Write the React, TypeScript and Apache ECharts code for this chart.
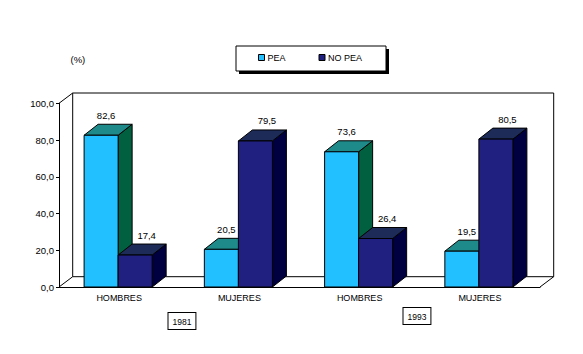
import React, { useEffect, useRef } from "react";
import * as echarts from "echarts";

const categories = ["HOMBRES", "MUJERES", "HOMBRES", "MUJERES"];
const years = ["1981", "1993"];
const seriesNames = ["PEA", "NO PEA"];
const peaValues = [82.6, 20.5, 73.6, 19.5];
const noPeaValues = [17.4, 79.5, 26.4, 80.5];

const FONT = "Liberation Sans, Arial, sans-serif";
const G = { left: 59, top: 103.3, width: 481, height: 183.7 };
const WALL = { dx: 13.7, dy: -10.3 };
const BAR = { dx: 14, dy: -11 };

const palette = [
  { front: "#22C0FF", top: "#1E8A8A", side: "#006040", labelDx: 5 },
  { front: "#202080", top: "#1C2B58", side: "#000040", labelDx: 11.5 },
];

const fmt = (v: number) => v.toFixed(1).replace(".", ",");

function makeRender(s: number) {
  return (params: any, api: any) => {
    const idx = api.value(0);
    const val = api.value(1);
    const top = api.coord([idx, val]);
    const base = api.coord([idx, 0]);
    const band = api.size([1, 0])[0];
    const bw = band * 0.283;
    const cx = top[0] - 1;
    const x0 = s === 0 ? cx - bw : cx;
    const x1 = x0 + bw;
    const yT = top[1];
    const y0 = base[1];
    const c = palette[s];
    const stroke = { stroke: "#000", lineWidth: 1 };
    return {
      type: "group",
      children: [
        {
          type: "polygon",
          shape: { points: [[x1, yT], [x1 + BAR.dx, yT + BAR.dy], [x1 + BAR.dx, y0 + BAR.dy], [x1, y0]] },
          style: { fill: c.side, ...stroke },
        },
        {
          type: "polygon",
          shape: { points: [[x0, yT], [x0 + BAR.dx, yT + BAR.dy], [x1 + BAR.dx, yT + BAR.dy], [x1, yT]] },
          style: { fill: c.top, ...stroke },
        },
        {
          type: "rect",
          shape: { x: x0, y: yT, width: bw, height: y0 - yT },
          style: { fill: c.front, ...stroke },
        },
        {
          type: "text",
          style: {
            text: fmt(val),
            x: (x0 + x1) / 2 + c.labelDx,
            y: yT + BAR.dy - 9,
            align: "center",
            verticalAlign: "middle",
            font: `9.5px ${FONT}`,
            fill: "#000",
          },
        },
      ],
    };
  };
}

export default function App() {
  const ref = useRef<HTMLDivElement>(null);
  useEffect(() => {
    if (!ref.current) return;
    const chart = echarts.init(ref.current, null, { renderer: "svg" });
    const bx = G.left + WALL.dx;
    const by = G.top + WALL.dy;
    const fx = G.left;
    const fy = G.top + G.height;
    const line = { stroke: "#000", lineWidth: 1, fill: "none" };
    chart.setOption({
      animation: false,
      backgroundColor: "#fff",
      title: {
        text: "(%)",
        left: 70.5,
        top: 54,
        padding: 0,
        textStyle: { fontFamily: FONT, fontSize: 9.5, fontWeight: "normal", color: "#000" },
      },
      legend: {
        data: seriesNames,
        left: 236,
        top: 46,
        padding: [7, 20, 7, 22],
        itemGap: 33,
        itemWidth: 6,
        itemHeight: 6,
        icon: "rect",
        itemStyle: { borderColor: "#000", borderWidth: 1 },
        textStyle: { fontFamily: FONT, fontSize: 9, color: "#000", padding: [0, 0, 0, -2] },
        z: 10,
      },
      grid: { left: G.left, top: G.top, width: G.width, height: G.height },
      xAxis: {
        type: "category",
        data: categories,
        axisLine: { lineStyle: { color: "#000", width: 1 } },
        axisTick: { length: 3, lineStyle: { color: "#000" } },
        axisLabel: { margin: 6, fontFamily: FONT, fontSize: 9, color: "#000" },
        splitLine: { show: false },
      },
      yAxis: {
        type: "value",
        min: 0,
        max: 100,
        interval: 20,
        axisLine: { show: true, lineStyle: { color: "#000", width: 1 } },
        axisTick: { show: true, length: 3, lineStyle: { color: "#000" } },
        axisLabel: { margin: 5, fontFamily: FONT, fontSize: 9.5, color: "#000", formatter: (v: number) => fmt(v) },
        splitLine: { show: false },
      },
      graphic: [
        { type: "rect", z: 0, shape: { x: bx, y: by, width: G.width, height: G.height }, style: { fill: "#fff", ...line } },
        { type: "line", z: 0, shape: { x1: fx, y1: fy, x2: bx, y2: fy + WALL.dy }, style: line },
        { type: "line", z: 0, shape: { x1: fx + G.width, y1: fy, x2: bx + G.width, y2: fy + WALL.dy }, style: line },
        { type: "line", z: 0, shape: { x1: fx, y1: G.top, x2: bx, y2: by }, style: line },
        { type: "rect", z: 1, shape: { x: 239, y: 49, width: 150, height: 25 }, style: { fill: "#000" } },
        { type: "rect", z: 1, shape: { x: 236, y: 46, width: 150, height: 25 }, style: { fill: "#fff", stroke: "#000", lineWidth: 1 } },
        {
          type: "text",
          z: 5,
          x: 168.5,
          y: 313,
          style: {
            text: years[0],
            font: `8.5px ${FONT}`,
            fill: "#000",
            backgroundColor: "#fff",
            borderColor: "#000",
            borderWidth: 1,
            padding: [4, 4, 3, 4],
          },
        },
        {
          type: "text",
          z: 5,
          x: 403.5,
          y: 308,
          style: {
            text: years[1],
            font: `8.5px ${FONT}`,
            fill: "#000",
            backgroundColor: "#fff",
            borderColor: "#000",
            borderWidth: 1,
            padding: [4, 4, 3, 4],
          },
        },
      ],
      series: [
        {
          name: seriesNames[0],
          type: "custom",
          renderItem: makeRender(0),
          itemStyle: { color: palette[0].front },
          encode: { x: 0, y: 1 },
          data: peaValues.map((v, i) => [i, v]),
          z: 3,
        },
        {
          name: seriesNames[1],
          type: "custom",
          renderItem: makeRender(1),
          itemStyle: { color: palette[1].front },
          encode: { x: 0, y: 1 },
          data: noPeaValues.map((v, i) => [i, v]),
          z: 4,
        },
      ],
    });
    return () => chart.dispose();
  }, []);
  return <div ref={ref} style={{ position: "fixed", left: 0, top: 0, width: 583, height: 354 }} />;
}
